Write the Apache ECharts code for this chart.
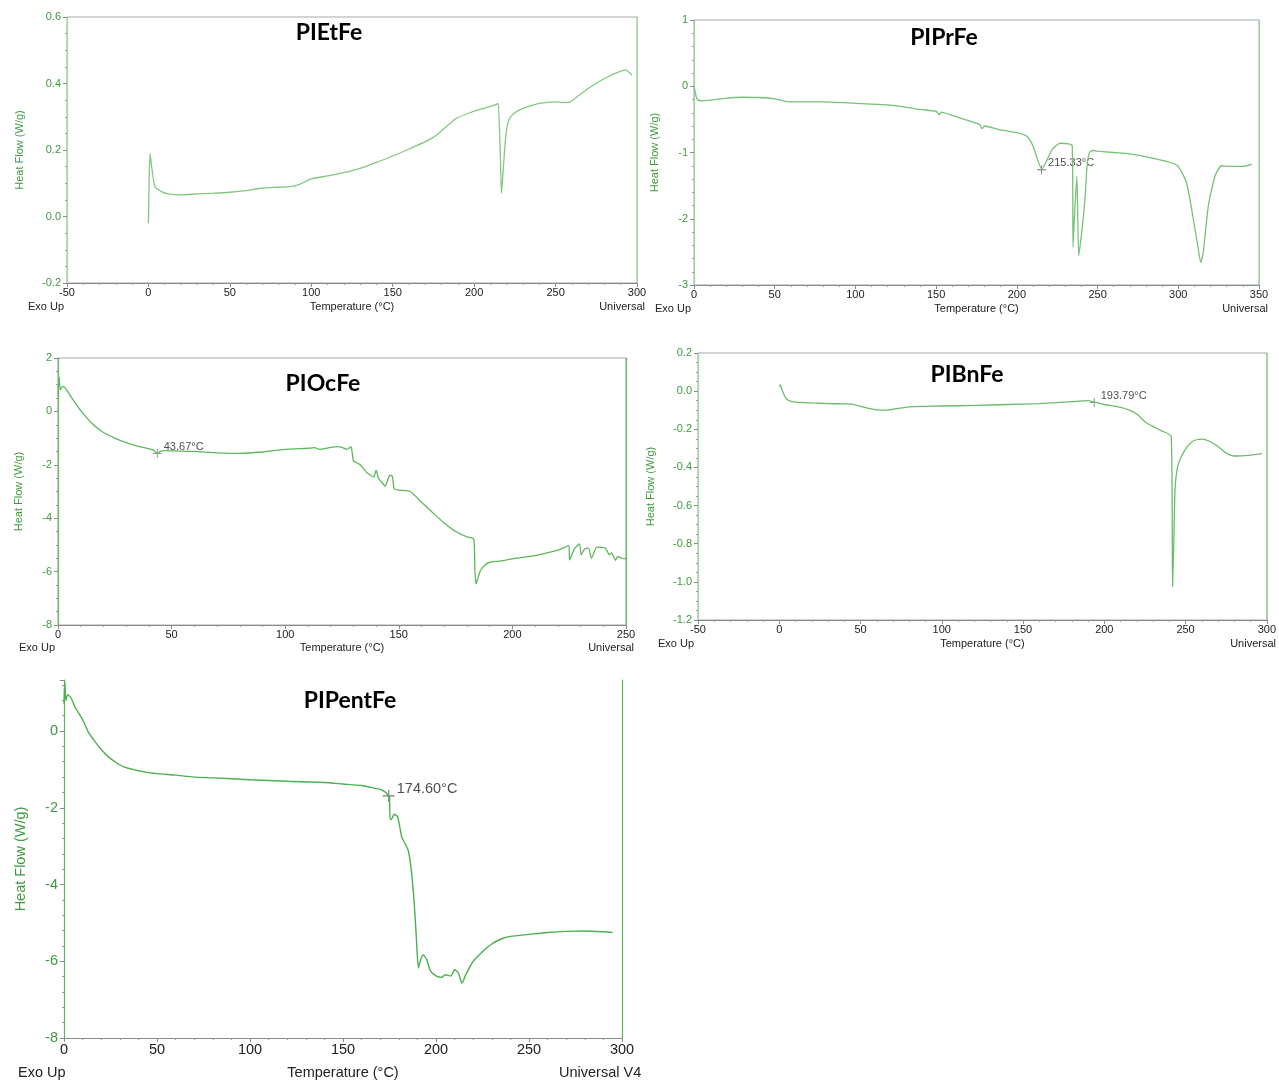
<!DOCTYPE html>
<html>
<head>
<meta charset="utf-8">
<script src="https://cdn.jsdelivr.net/npm/echarts@6/dist/echarts.min.js"></script>
<style>html,body{margin:0;padding:0;background:#fff;}#c{width:1279px;height:1084px;}</style>
</head>
<body>
<div id="c"></div>
<script>
// ---- data ----
var titles = ['PIEtFe', 'PIPrFe', 'PIOcFe', 'PIBnFe', 'PIPentFe'];

var etTemp = [0, 0.4, 1, 2, 4, 8, 13, 20, 30, 40, 50, 60, 69, 80, 87, 92, 100, 110, 120, 130, 140, 150, 160, 170, 177, 184, 189, 199, 207, 214, 214.8, 216, 216.8, 218, 219.6, 221.7, 225, 230, 240, 250, 255, 258, 262, 270, 280, 290, 293, 297];
var etHeat = [-0.02, 0.1, 0.19, 0.15, 0.09, 0.075, 0.067, 0.065, 0.068, 0.07, 0.073, 0.078, 0.085, 0.088, 0.09, 0.095, 0.113, 0.122, 0.132, 0.145, 0.163, 0.182, 0.203, 0.225, 0.245, 0.275, 0.295, 0.315, 0.327, 0.338, 0.34, 0.2, 0.07, 0.15, 0.25, 0.295, 0.312, 0.325, 0.34, 0.345, 0.343, 0.343, 0.355, 0.385, 0.415, 0.437, 0.44, 0.425];

var prTemp = [0, 1, 2, 5, 10, 20, 30, 40, 50, 55, 60, 70, 80, 100, 120, 130, 140, 150, 152, 153, 155, 160, 170, 177, 178.5, 180, 190, 200, 206, 210, 212.7, 215.4, 218, 222, 226.7, 232, 234.3, 234.8, 235.8, 237.2, 238.3, 240.2, 242.2, 243.5, 245, 247, 250, 260, 270, 283, 299, 305, 309, 312.4, 313.9, 315.5, 318.6, 322.8, 326.9, 332, 340, 345.5];
var prHeat = [0.0, -0.12, -0.2, -0.22, -0.21, -0.18, -0.166, -0.17, -0.19, -0.22, -0.237, -0.237, -0.236, -0.257, -0.28, -0.31, -0.35, -0.38, -0.43, -0.39, -0.4, -0.44, -0.52, -0.58, -0.64, -0.6, -0.66, -0.7, -0.75, -0.9, -1.1, -1.25, -1.15, -0.95, -0.86, -0.87, -0.9, -2.43, -1.9, -1.36, -2.56, -2.2, -1.7, -1.2, -1.0, -0.97, -0.98, -1.0, -1.02, -1.08, -1.19, -1.45, -1.96, -2.46, -2.66, -2.5, -1.81, -1.35, -1.2, -1.21, -1.21, -1.18];

var ocTemp = [0, 0.5, 1, 2, 3, 5, 7.5, 10, 15, 20, 25, 30, 35, 40, 42, 43.67, 45, 47, 50, 60, 70, 80, 90, 100, 110, 113, 115, 120, 123, 125, 127, 128, 129, 130, 131, 133, 136, 139, 140, 141, 143, 144, 145, 146, 147, 148, 150, 155, 160, 165, 170, 175, 180, 183, 183.5, 184, 185, 186, 188, 190, 195, 200, 210, 220, 224.8, 225.2, 227.2, 229.5, 230.3, 231.7, 233.5, 234.8, 237.2, 240.9, 242.7, 243.6, 245.4, 246.3, 248.2, 250];
var ocHeat = [0.59, 1.28, 0.8, 0.94, 0.9, 0.65, 0.33, 0.03, -0.45, -0.79, -1.0, -1.17, -1.3, -1.4, -1.45, -1.58, -1.5, -1.47, -1.48, -1.5, -1.55, -1.57, -1.52, -1.42, -1.38, -1.36, -1.42, -1.35, -1.32, -1.35, -1.42, -1.38, -1.32, -1.85, -1.9, -2.0, -2.3, -2.45, -2.2, -2.5, -2.7, -2.8, -2.6, -2.4, -2.4, -2.9, -2.95, -3.0, -3.4, -3.8, -4.18, -4.5, -4.7, -4.78, -6.0, -6.46, -6.2, -5.95, -5.75, -5.65, -5.6, -5.52, -5.4, -5.2, -5.03, -5.56, -5.16, -4.96, -5.37, -5.16, -5.12, -5.5, -5.08, -5.12, -5.37, -5.3, -5.58, -5.43, -5.5, -5.52];

var bnTemp = [0, 0.5, 2, 4, 6, 10, 20, 30, 40, 45, 50, 55, 60, 65, 70, 80, 90, 100, 120, 140, 160, 180, 190, 193.79, 200, 210, 215, 220, 225, 230, 235, 241.2, 242, 242.8, 243.5, 245, 247.4, 251.2, 255, 260, 265, 270, 275, 280, 290, 297];
var bnHeat = [0.025, 0.033, 0.0, -0.037, -0.05, -0.058, -0.062, -0.065, -0.067, -0.068, -0.08, -0.09, -0.098, -0.1, -0.095, -0.082, -0.08, -0.078, -0.075, -0.07, -0.065, -0.055, -0.05, -0.058, -0.07, -0.085, -0.098, -0.12, -0.16, -0.185, -0.207, -0.238, -1.025, -0.78, -0.52, -0.4, -0.343, -0.29, -0.26, -0.252, -0.264, -0.29, -0.325, -0.34, -0.335, -0.328];

var pentTemp = [0, 0.4, 1, 2, 3.6, 6, 10.2, 13, 16.9, 20, 23.6, 28, 32.5, 43.6, 50, 60, 70, 80, 100, 120, 140, 150, 160, 165, 170, 173, 174.6, 175, 175.3, 176, 177.5, 179.4, 181.6, 185, 186.7, 188.3, 189.4, 190.5, 191.5, 193, 195, 197, 200, 203, 205, 208, 210, 212, 214, 216, 220, 225, 230, 235, 240, 250, 260, 270, 280, 290, 295];
var pentHeat = [0.71, 1.3, 0.8, 0.95, 0.88, 0.62, 0.28, -0.02, -0.29, -0.48, -0.66, -0.82, -0.94, -1.07, -1.11, -1.15, -1.2, -1.22, -1.27, -1.31, -1.34, -1.38, -1.42, -1.47, -1.52, -1.6, -1.69, -1.7, -2.3, -2.3, -2.17, -2.24, -2.76, -3.1, -3.62, -4.49, -5.36, -6.18, -6.0, -5.83, -5.95, -6.25, -6.38, -6.42, -6.35, -6.38, -6.22, -6.3, -6.57, -6.35, -6.0, -5.75, -5.55, -5.42, -5.35, -5.3, -5.25, -5.22, -5.21, -5.23, -5.25];

var markerTemps = [null, 215.33, 43.67, 193.79, 174.60];
var markerHeats = [null, -1.26, -1.58, -0.06, -1.69];

var xRanges = [[-50, 300], [0, 350], [0, 250], [-50, 300], [0, 300]];
var yRanges = [[-0.2, 0.6], [-3, 1], [-8, 2], [-1.2, 0.2], [-8, 1.33]];
var yIntervals = [0.2, 1, 2, 0.2, 2];
var yMinorSplits = [4, 5, 4, 4, 5];
var yDecimals = [1, 0, 0, 1, 0];

var xAxisTitle = 'Temperature (°C)';
var yAxisTitle = 'Heat Flow (W/g)';
var leftNotes = ['Exo Up', 'Exo Up', 'Exo Up', 'Exo Up', 'Exo Up'];
var rightNotes = ['Universal', 'Universal', 'Universal', 'Universal', 'Universal V4'];

// ---- layout / style ----
var grids = [
  {left: 67, top: 17, width: 570, height: 266},
  {left: 694, top: 20, width: 565, height: 265},
  {left: 58, top: 358, width: 568, height: 267},
  {left: 698, top: 353, width: 569, height: 267},
  {left: 64, top: 680, width: 558, height: 358}
];
var fontSizes = [11, 11, 11, 11, 14.5];
var yNameGaps = [42, 34, 34, 42, 36];
var xNameGaps = [18, 18, 17, 18, 27];
var lineColors = ['#82c882', '#76c276', '#5cb85c', '#6cbc6c', '#4caf50'];
var axisGreens = ['#a6d9a6', '#9dd49d', '#62bb62', '#a0d6a0', '#5ab85a'];
var titlePos = [[329, 33], [944, 38], [323, 384], [967, 375], [350, 701]];
var notesY = [307, 309, 648, 644, 1073];
var notesLeftX = [28, 655, 19, 658, 18];
var notesRightX = [645, 1268, 634, 1276, 559];

var series = [[etTemp, etHeat], [prTemp, prHeat], [ocTemp, ocHeat], [bnTemp, bnHeat], [pentTemp, pentHeat]];

function zip(t, h) {
  var n = Math.min(t.length, h.length), out = [];
  for (var i = 0; i < n; i++) out.push([t[i], h[i]]);
  return out;
}

var font = 'Liberation Sans, Arial, sans-serif';
var xAxes = [], yAxes = [], seriesList = [], graphics = [], gridList = [];
var crossPath = 'path://M0,4.55H10V5.45H0Z M4.55,0H5.45V10H4.55Z';

for (var i = 0; i < 5; i++) {
  var g = grids[i];
  gridList.push({left: g.left, top: g.top, width: g.width, height: g.height,
    show: i !== 4, borderColor: '#a8a8a8', borderWidth: 1, containLabel: false});
  var fs = fontSizes[i];
  xAxes.push({
    type: 'value', gridIndex: i, position: 'bottom', min: xRanges[i][0], max: xRanges[i][1], interval: 50,
    axisLine: {show: true, onZero: false, lineStyle: {color: '#8a8a8a', width: 1}},
    axisTick: {show: true, length: 4, lineStyle: {color: '#8a8a8a'}},
    minorTick: {show: true, splitNumber: 5, length: 2, lineStyle: {color: '#9a9a9a'}},
    splitLine: {show: false},
    axisLabel: {color: '#222', fontSize: fs, fontFamily: font, margin: 4},
    name: xAxisTitle, nameLocation: 'middle', nameGap: xNameGaps[i],
    nameTextStyle: {color: '#222', fontSize: fs, fontFamily: font}
  });
  (function (dec) {
    yAxes.push({
      type: 'value', gridIndex: i, position: 'left',
      min: yRanges[i][0], max: yRanges[i][1], interval: yIntervals[i],
      axisLine: {show: true, onZero: false, lineStyle: {color: axisGreens[i], width: 1.2}},
      axisTick: {show: true, length: 4, lineStyle: {color: '#8a8a8a'}},
      minorTick: {show: true, splitNumber: yMinorSplits[i], length: 2, lineStyle: {color: '#9a9a9a'}},
      splitLine: {show: false},
      axisLabel: {color: '#3d9a3d', fontSize: fs, fontFamily: font, margin: 6, showMaxLabel: i !== 4,
        formatter: function (v) { return v.toFixed(dec); }},
      name: yAxisTitle, nameLocation: 'middle', nameGap: yNameGaps[i], nameRotate: 90,
      nameTextStyle: {color: '#3d9a3d', fontSize: fs, fontFamily: font}
    });
  })(yDecimals[i]);
  yAxes.push({
    type: 'value', gridIndex: i, position: 'right',
    min: yRanges[i][0], max: yRanges[i][1],
    axisLine: {show: true, onZero: false, lineStyle: {color: axisGreens[i], width: 1.2}},
    axisTick: {show: false}, axisLabel: {show: false}, splitLine: {show: false}
  });
  seriesList.push({
    type: 'line', xAxisIndex: i, yAxisIndex: i * 2, data: zip(series[i][0], series[i][1]),
    showSymbol: false, smooth: 0.2,
    lineStyle: {color: lineColors[i], width: i === 4 ? 1.4 : 1.3},
    clip: false, animation: false, silent: true
  });
  if (markerTemps[i] !== null) {
    seriesList.push({
      type: 'scatter', xAxisIndex: i, yAxisIndex: i * 2,
      data: [[markerTemps[i], markerHeats[i]]],
      symbol: crossPath, symbolSize: i === 4 ? 12 : 9,
      itemStyle: {color: '#555'},
      label: {show: true, position: 'right', distance: 2, offset: [0, -7],
        formatter: markerTemps[i].toFixed(2) + '°C', color: '#222', fontSize: i === 4 ? 14.5 : 11, fontFamily: font},
      animation: false, silent: true
    });
  }
  graphics.push({type: 'text', x: titlePos[i][0], y: titlePos[i][1],
    style: {text: titles[i], font: 'bold 23px Lato, "Open Sans", sans-serif', fill: '#000', align: 'center', verticalAlign: 'middle'}});
  graphics.push({type: 'text', x: notesLeftX[i], y: notesY[i],
    style: {text: leftNotes[i], font: fs + 'px ' + font, fill: '#222', align: 'left', verticalAlign: 'middle'}});
  graphics.push({type: 'text', x: notesRightX[i], y: notesY[i],
    style: {text: rightNotes[i], font: fs + 'px ' + font, fill: '#222', align: i === 4 ? 'left' : 'right', verticalAlign: 'middle'}});
}

var chart = echarts.init(document.getElementById('c'), null, {renderer: 'canvas'});
chart.setOption({
  animation: false,
  backgroundColor: '#fff',
  grid: gridList,
  xAxis: xAxes,
  yAxis: yAxes,
  series: seriesList,
  graphic: graphics
});
</script>
</body>
</html>
